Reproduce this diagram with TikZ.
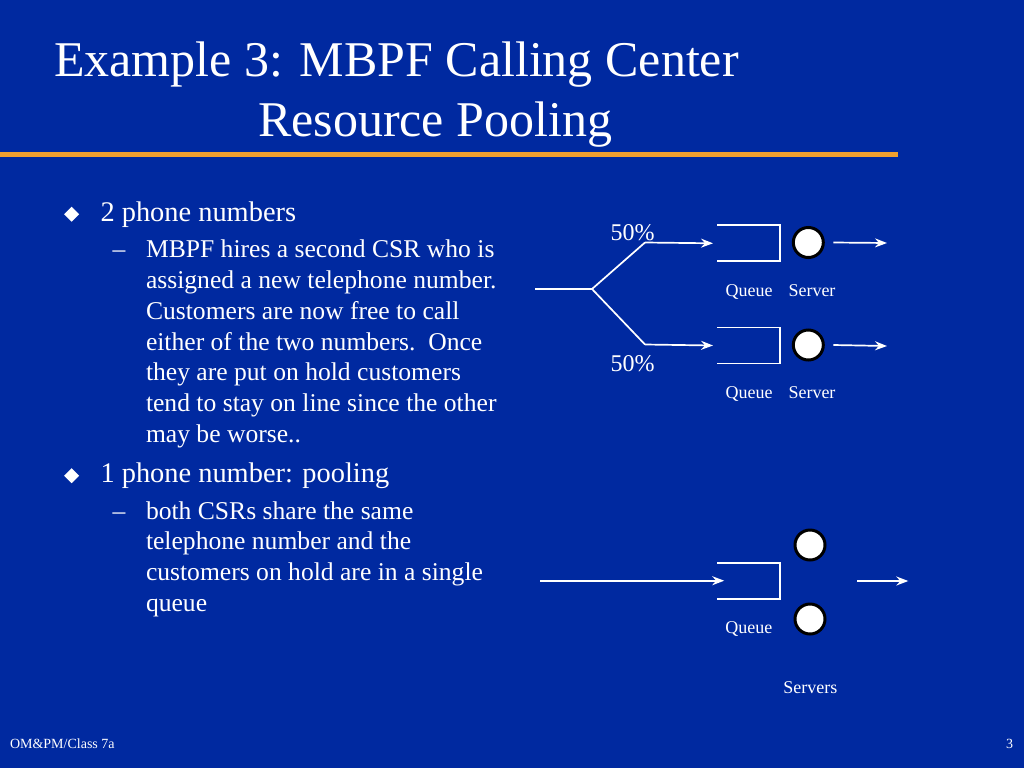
\documentclass[tikz,border=0pt]{standalone}
\usepackage{fontspec}
\setmainfont{Liberation Serif}
\usetikzlibrary{arrows.meta}
\definecolor{bgblue}{RGB}{0,41,160}
\definecolor{rulecol}{RGB}{240,160,48}
\begin{document}
\begin{tikzpicture}[x=1pt,y=-1pt,
  every node/.style={text=white, inner sep=0pt, outer sep=0pt},
  wire/.style={draw=white, line width=1.7pt},
  arr/.style={wire, -{Stealth[length=12pt,width=9pt,inset=4pt]}},
  queuebox/.style={minimum width=63pt, minimum height=36pt},
  queueline/.style={draw=white, line width=1.7pt},
  server/.style={circle, fill=white, draw=black, line width=3pt, minimum size=30pt},
  lbl/.style={font=\fontsize{18}{20}\selectfont, anchor=base west},
  pct/.style={font=\fontsize{24}{28}\selectfont, anchor=base west},
  titletext/.style={font=\fontsize{50}{60}\selectfont, anchor=base west},
  bullettext/.style={font=\fontsize{28.4}{34}\selectfont, anchor=base west},
  subtext/.style={font=\fontsize{25.6}{30.9}\selectfont, anchor=base west},
  foot/.style={font=\fontsize{14}{16}\selectfont, anchor=base west},
  bulletmark/.style={fill=white}
]
% background and bounds
\fill[bgblue] (0,0) rectangle (1024,768);
\useasboundingbox (0,0) rectangle (1024,768);

% title
\node[titletext] (t1) at (54,77) {Example 3: MBPF Calling Center};
\node[titletext] (t2) at (258,136) {Resource Pooling};
\fill[rulecol] (0,151.5) rectangle (898,156.5);

% bullets
\fill[bulletmark] (71.7,206.7) -- (79.2,214.2) -- (71.7,221.7) -- (64.2,214.2) -- cycle;
\node[bullettext] (b1) at (100.5,221) {2 phone numbers};
\node[subtext] (d1) at (112.7,257.3) {–};
\node[subtext] (s1text) at (146,257.3) {\parbox[t]{380pt}{\raggedright
MBPF hires a second CSR who is\\
assigned a new telephone number.\\
Customers are now free to call\\
either of the two numbers.~~Once\\
they are put on hold customers\\
tend to stay on line since the other\\
may be worse..}};

\fill[bulletmark] (71.7,468.2) -- (79.2,475.7) -- (71.7,483.2) -- (64.2,475.7) -- cycle;
\node[bullettext] (b2) at (100.5,482.3) {1 phone number: pooling};
\node[subtext] (d2) at (112.7,519) {–};
\node[subtext] (s2text) at (146,519) {\parbox[t]{380pt}{\raggedright
both CSRs share the same\\
telephone number and the\\
customers on hold are in a single\\
queue}};

% footer
\node[foot] (f1) at (10,748) {OM\&PM/Class 7a};
\node[foot] (f2) at (1006,748) {3};

% ---- top diagram: two separate queues ----
\coordinate (in1) at (535,289);
\coordinate (br) at (592,289);
\coordinate (up) at (645,242.5);
\coordinate (dn) at (645,344.5);
\node[queuebox] (q1) at (748.5,243.3) {};
\node[queuebox] (q2) at (748.5,345.5) {};
\node[server] (sv1) at (808.3,242.5) {};
\node[server] (sv2) at (808.3,345) {};
\coordinate (o1) at (887,243);
\coordinate (o2) at (887,346);

\draw[wire] (in1) -- (br);
\draw[wire] (br) -- (up);
\draw[wire] (br) -- (dn);
\draw[arr] (up) -- ([xshift=-4pt]q1.west);
\draw[arr] (dn) -- ([xshift=-4pt]q2.west);
\draw[queueline] (q1.north west) -- (q1.north east) -- (q1.south east) -- (q1.south west);
\draw[queueline] (q2.north west) -- (q2.north east) -- (q2.south east) -- (q2.south west);
\draw[arr] ([xshift=10pt]sv1.east) -- (o1);
\draw[arr] ([xshift=10pt]sv2.east) -- (o2);

\node[pct] (p1) at (610.7,240.7) {50\%};
\node[pct] (p2) at (610.7,371.7) {50\%};
\node[lbl] (ql1) at (725.7,296) {Queue};
\node[lbl] (sl1) at (788.5,296) {Server};
\node[lbl] (ql2) at (725.7,398.3) {Queue};
\node[lbl] (sl2) at (788.5,398.3) {Server};

% ---- bottom diagram: pooled queue ----
\coordinate (in2) at (540,580.7);
\node[queuebox] (q3) at (748.7,580.7) {};
\node[server] (sv3) at (810,545) {};
\node[server] (sv4) at (810,619) {};
\coordinate (o3s) at (857.3,581);
\coordinate (o3) at (908.3,581);
\draw[arr] (in2) -- ([xshift=7pt]q3.west);
\draw[queueline] (q3.north west) -- (q3.north east) -- (q3.south east) -- (q3.south west);
\draw[arr] (o3s) -- (o3);
\node[lbl] (ql3) at (725.3,633.3) {Queue};
\node[lbl] (sl3) at (783.3,693.3) {Servers};
\end{tikzpicture}
\end{document}
